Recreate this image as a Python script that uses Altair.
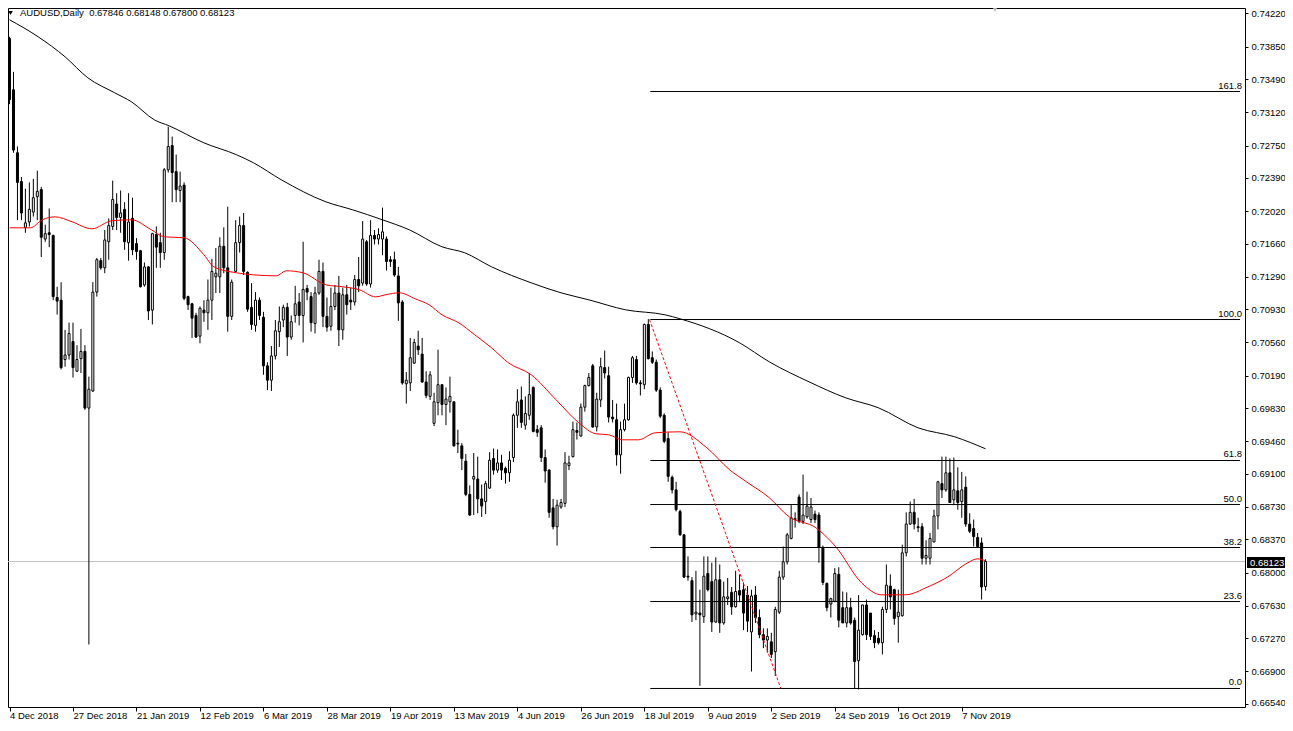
import altair as alt
import pandas as pd

# ---------------- data ----------------
x_labels = ["4 Dec 2018", "27 Dec 2018", "21 Jan 2019", "12 Feb 2019", "6 Mar 2019",
            "28 Mar 2019", "19 Apr 2019", "13 May 2019", "4 Jun 2019", "26 Jun 2019",
            "18 Jul 2019", "9 Aug 2019", "2 Sep 2019", "24 Sep 2019", "16 Oct 2019", "7 Nov 2019"]
x_label_bars = [0, 16, 32, 48, 64, 80, 96, 112, 128, 144, 160, 176, 192, 208, 224, 240]

y_ticks = [0.74220, 0.73850, 0.73490, 0.73120, 0.72750, 0.72390, 0.72020, 0.71660, 0.71290,
           0.70930, 0.70560, 0.70190, 0.69830, 0.69460, 0.69100, 0.68730, 0.68370, 0.68000,
           0.67630, 0.67270, 0.66900, 0.66540]

opens = [
    0.7394, 0.7337, 0.7267, 0.7235, 0.7184, 0.7190, 0.7201, 0.7218, 0.7226, 0.7171,
    0.7178, 0.7175, 0.7106, 0.7103, 0.7037, 0.7042, 0.7057, 0.7024, 0.7038, 0.7046,
    0.6983, 0.7002, 0.7112, 0.7147, 0.7139, 0.7168, 0.7185, 0.7210, 0.7195, 0.7204,
    0.7167, 0.7194, 0.7166, 0.7158, 0.7120, 0.7140, 0.7092, 0.7176, 0.7167, 0.7156,
    0.7248, 0.7275, 0.7246, 0.7225, 0.7231, 0.7107, 0.7099, 0.7086, 0.7063, 0.7092,
    0.7089, 0.7103, 0.7129, 0.7129, 0.7163, 0.7139, 0.7085, 0.7135, 0.7167, 0.7186,
    0.7134, 0.7095, 0.7075, 0.7103, 0.7084, 0.7030, 0.7014, 0.7041, 0.7068, 0.7081,
    0.7095, 0.7062, 0.7086, 0.7101, 0.7086, 0.7116, 0.7107, 0.7077, 0.7111, 0.7135,
    0.7085, 0.7074, 0.7096, 0.7111, 0.7070, 0.7109, 0.7103, 0.7101, 0.7126, 0.7122,
    0.7168, 0.7121, 0.7175, 0.7171, 0.7171, 0.7171, 0.7148, 0.7148, 0.7130, 0.7101,
    0.7010, 0.7011, 0.7033, 0.7052, 0.7043, 0.7012, 0.6996, 0.6966, 0.6989, 0.7009,
    0.6987, 0.6990, 0.6990, 0.6944, 0.6941, 0.6924, 0.6887, 0.6904, 0.6904, 0.6882,
    0.6879, 0.6894, 0.6927, 0.6914, 0.6922, 0.6916, 0.6911, 0.6928, 0.6975, 0.6992,
    0.6964, 0.6975, 0.7006, 0.6959, 0.6961, 0.6928, 0.6914, 0.6872, 0.6851, 0.6873,
    0.6877, 0.6919, 0.6929, 0.6958, 0.6952, 0.6984, 0.7008, 0.7030, 0.6962, 0.6992,
    0.7028, 0.7019, 0.6973, 0.6970, 0.6931, 0.6959, 0.6970, 0.7017, 0.7037, 0.7011,
    0.7009, 0.7076, 0.7039, 0.7034, 0.7003, 0.6975, 0.6949, 0.6906, 0.6892, 0.6868,
    0.6842, 0.6796, 0.6791, 0.6754, 0.6755, 0.6751, 0.6799, 0.6790, 0.6745, 0.6792,
    0.6744, 0.6771, 0.6778, 0.6762, 0.6780, 0.6781, 0.6775, 0.6734, 0.6775, 0.6750,
    0.6731, 0.6725, 0.6723, 0.6712, 0.6756, 0.6795, 0.6812, 0.6838, 0.6859, 0.6884,
    0.6857, 0.6862, 0.6859, 0.6865, 0.6864, 0.6828, 0.6788, 0.6765, 0.6768, 0.6798,
    0.6761, 0.6744, 0.6761, 0.6747, 0.6702, 0.6731, 0.6764, 0.6755, 0.6730, 0.6727,
    0.6722, 0.6759, 0.6785, 0.6781, 0.6751, 0.6752, 0.6822, 0.6854, 0.6867, 0.6851,
    0.6851, 0.6816, 0.6816, 0.6834, 0.6863, 0.6899, 0.6892, 0.6911, 0.6881, 0.6891,
    0.6879, 0.6895, 0.6854, 0.6849, 0.6839, 0.6833, 0.67846]

highs = [
    0.7396, 0.7357, 0.7274, 0.7240, 0.7227, 0.7234, 0.7238, 0.7247, 0.7229, 0.7187,
    0.7205, 0.7176, 0.7118, 0.7123, 0.7070, 0.7078, 0.7078, 0.7053, 0.7071, 0.7053,
    0.7018, 0.7123, 0.7150, 0.7150, 0.7181, 0.7194, 0.7236, 0.7222, 0.7225, 0.7212,
    0.7222, 0.7217, 0.7172, 0.7159, 0.7145, 0.7141, 0.7178, 0.7185, 0.7178, 0.7250,
    0.7296, 0.7285, 0.7265, 0.7246, 0.7234, 0.7108, 0.7100, 0.7089, 0.7096, 0.7103,
    0.7126, 0.7149, 0.7161, 0.7173, 0.7184, 0.7207, 0.7126, 0.7192, 0.7196, 0.7200,
    0.7135, 0.7122, 0.7112, 0.7106, 0.7090, 0.7034, 0.7052, 0.7081, 0.7096, 0.7098,
    0.7100, 0.7086, 0.7119, 0.7111, 0.7168, 0.7120, 0.7112, 0.7118, 0.7148, 0.7145,
    0.7106, 0.7117, 0.7120, 0.7130, 0.7117, 0.7120, 0.7117, 0.7131, 0.7151, 0.7191,
    0.7170, 0.7192, 0.7181, 0.7183, 0.7206, 0.7174, 0.7152, 0.7157, 0.7140, 0.7103,
    0.7023, 0.7061, 0.7060, 0.7069, 0.7061, 0.7024, 0.7024, 0.7000, 0.7048, 0.7009,
    0.7006, 0.7018, 0.6990, 0.6959, 0.6944, 0.6932, 0.6897, 0.6933, 0.6929, 0.6898,
    0.6902, 0.6934, 0.6938, 0.6937, 0.6931, 0.6918, 0.6935, 0.6977, 0.7004, 0.7007,
    0.6996, 0.7022, 0.7007, 0.6964, 0.6964, 0.6937, 0.6915, 0.6882, 0.6881, 0.6882,
    0.6934, 0.6930, 0.6968, 0.6967, 0.6988, 0.7009, 0.7022, 0.7032, 0.7000, 0.7039,
    0.7047, 0.7029, 0.6992, 0.6988, 0.6968, 0.6988, 0.7018, 0.7041, 0.7041, 0.7014,
    0.7077, 0.7082, 0.7046, 0.7037, 0.7006, 0.6977, 0.6956, 0.6908, 0.6901, 0.6870,
    0.6843, 0.6818, 0.6795, 0.6802, 0.6781, 0.6818, 0.6818, 0.6811, 0.6817, 0.6809,
    0.6790, 0.6794, 0.6784, 0.6802, 0.6798, 0.6789, 0.6785, 0.6781, 0.6785, 0.6759,
    0.6738, 0.6738, 0.6733, 0.6762, 0.6802, 0.6829, 0.6844, 0.6875, 0.6867, 0.6887,
    0.6909, 0.6890, 0.6883, 0.6869, 0.6867, 0.6830, 0.6789, 0.6772, 0.6805, 0.6806,
    0.6779, 0.6778, 0.6772, 0.6750, 0.6775, 0.6764, 0.6770, 0.6755, 0.6736, 0.6734,
    0.6762, 0.6809, 0.6798, 0.6782, 0.6781, 0.6831, 0.6867, 0.6879, 0.6882, 0.6861,
    0.6855, 0.6836, 0.6844, 0.6870, 0.6902, 0.6929, 0.6929, 0.6927, 0.6928, 0.6917,
    0.6912, 0.6907, 0.6866, 0.6859, 0.6844, 0.6839, 0.68148]

lows = [
    0.7321, 0.7267, 0.7192, 0.7192, 0.7178, 0.7185, 0.7196, 0.7192, 0.7151, 0.7168,
    0.7162, 0.7103, 0.7087, 0.7026, 0.7029, 0.7037, 0.7017, 0.7023, 0.7022, 0.6981,
    0.6720, 0.7001, 0.7107, 0.7137, 0.7133, 0.7148, 0.7181, 0.7181, 0.7178, 0.7159,
    0.7147, 0.7153, 0.7148, 0.7117, 0.7118, 0.7081, 0.7076, 0.7139, 0.7139, 0.7148,
    0.7245, 0.7212, 0.7212, 0.7212, 0.7103, 0.7092, 0.7061, 0.7061, 0.7055, 0.7079,
    0.7070, 0.7081, 0.7111, 0.7111, 0.7133, 0.7068, 0.7081, 0.7134, 0.7156, 0.7131,
    0.7090, 0.7070, 0.7068, 0.7081, 0.7020, 0.7003, 0.7002, 0.7037, 0.7051, 0.7073,
    0.7041, 0.7059, 0.7078, 0.7075, 0.7056, 0.7103, 0.7068, 0.7066, 0.7109, 0.7073,
    0.7068, 0.7069, 0.7092, 0.7052, 0.7059, 0.7087, 0.7092, 0.7097, 0.7112, 0.7119,
    0.7119, 0.7117, 0.7165, 0.7165, 0.7153, 0.7136, 0.7140, 0.7129, 0.7080, 0.7009,
    0.6988, 0.7002, 0.7032, 0.7042, 0.7011, 0.6994, 0.6992, 0.6963, 0.6975, 0.6975,
    0.6964, 0.6978, 0.6940, 0.6933, 0.6914, 0.6885, 0.6863, 0.6864, 0.6866, 0.6862,
    0.6865, 0.6893, 0.6909, 0.6911, 0.6903, 0.6899, 0.6901, 0.6923, 0.6961, 0.6961,
    0.6959, 0.6970, 0.6956, 0.6951, 0.6923, 0.6900, 0.6861, 0.6848, 0.6830, 0.6871,
    0.6873, 0.6914, 0.6928, 0.6948, 0.6951, 0.6979, 0.7007, 0.6961, 0.6957, 0.6984,
    0.7016, 0.6967, 0.6967, 0.6919, 0.6910, 0.6957, 0.6969, 0.7011, 0.7009, 0.6997,
    0.7004, 0.7037, 0.7032, 0.7001, 0.6972, 0.6944, 0.6901, 0.6888, 0.6868, 0.6841,
    0.6794, 0.6791, 0.6745, 0.6747, 0.6674, 0.6744, 0.6779, 0.6734, 0.6744, 0.6733,
    0.6742, 0.6764, 0.6753, 0.6761, 0.6767, 0.6736, 0.6734, 0.6690, 0.6744, 0.6727,
    0.6716, 0.6711, 0.6705, 0.6685, 0.6754, 0.6792, 0.6809, 0.6837, 0.6850, 0.6855,
    0.6854, 0.6860, 0.6855, 0.6855, 0.6811, 0.6786, 0.6757, 0.6750, 0.6767, 0.6739,
    0.6744, 0.6739, 0.6742, 0.6671, 0.6670, 0.6730, 0.6725, 0.6725, 0.6716, 0.6720,
    0.6709, 0.6755, 0.6759, 0.6742, 0.6722, 0.6751, 0.6818, 0.6853, 0.6848, 0.6845,
    0.6809, 0.6809, 0.6809, 0.6834, 0.6848, 0.6883, 0.6890, 0.6878, 0.6875, 0.6870,
    0.6861, 0.6851, 0.6844, 0.6829, 0.6828, 0.6770, 0.67800]

closes = [
    0.7326, 0.7270, 0.7234, 0.7200, 0.7189, 0.7204, 0.7217, 0.7224, 0.7173, 0.7177,
    0.7176, 0.7107, 0.7102, 0.7028, 0.7042, 0.7066, 0.7028, 0.7037, 0.7046, 0.6983,
    0.7004, 0.7112, 0.7148, 0.7139, 0.7170, 0.7186, 0.7215, 0.7195, 0.7200, 0.7168,
    0.7190, 0.7159, 0.7157, 0.7118, 0.7140, 0.7091, 0.7177, 0.7162, 0.7156, 0.7248,
    0.7274, 0.7245, 0.7226, 0.7230, 0.7105, 0.7098, 0.7083, 0.7062, 0.7094, 0.7089,
    0.7103, 0.7135, 0.7133, 0.7163, 0.7139, 0.7085, 0.7123, 0.7167, 0.7186, 0.7135,
    0.7093, 0.7076, 0.7103, 0.7086, 0.7030, 0.7014, 0.7041, 0.7069, 0.7079, 0.7095,
    0.7062, 0.7079, 0.7099, 0.7086, 0.7115, 0.7112, 0.7078, 0.7111, 0.7135, 0.7085,
    0.7073, 0.7096, 0.7111, 0.7070, 0.7109, 0.7098, 0.7101, 0.7126, 0.7119, 0.7171,
    0.7121, 0.7175, 0.7171, 0.7176, 0.7179, 0.7146, 0.7146, 0.7131, 0.7100, 0.7011,
    0.7014, 0.7039, 0.7056, 0.7048, 0.7012, 0.6997, 0.7020, 0.6990, 0.7009, 0.6987,
    0.6993, 0.6996, 0.6941, 0.6943, 0.6927, 0.6887, 0.6864, 0.6907, 0.6882, 0.6874,
    0.6899, 0.6925, 0.6914, 0.6922, 0.6914, 0.6911, 0.6925, 0.6975, 0.6990, 0.6967,
    0.6977, 0.6998, 0.6957, 0.6956, 0.6928, 0.6913, 0.6867, 0.6851, 0.6875, 0.6878,
    0.6922, 0.6922, 0.6959, 0.6956, 0.6984, 0.7008, 0.7017, 0.6962, 0.6993, 0.7029,
    0.7022, 0.6973, 0.6971, 0.6931, 0.6959, 0.6970, 0.7017, 0.7039, 0.7011, 0.7010,
    0.7076, 0.7038, 0.7034, 0.7003, 0.6974, 0.6946, 0.6907, 0.6892, 0.6870, 0.6842,
    0.6795, 0.6795, 0.6753, 0.6756, 0.6753, 0.6796, 0.6781, 0.6745, 0.6792, 0.6744,
    0.6773, 0.6773, 0.6762, 0.6779, 0.6775, 0.6755, 0.6746, 0.6774, 0.6750, 0.6731,
    0.6725, 0.6729, 0.6709, 0.6759, 0.6795, 0.6812, 0.6842, 0.6861, 0.6860, 0.6857,
    0.6864, 0.6874, 0.6873, 0.6859, 0.6828, 0.6789, 0.6761, 0.6771, 0.6799, 0.6747,
    0.6744, 0.6761, 0.6744, 0.6701, 0.6736, 0.6764, 0.6731, 0.6729, 0.6722, 0.6722,
    0.6759, 0.6786, 0.6773, 0.6749, 0.6756, 0.6822, 0.6854, 0.6867, 0.6854, 0.6850,
    0.6816, 0.6819, 0.6838, 0.6863, 0.6901, 0.6892, 0.6911, 0.6878, 0.6892, 0.6878,
    0.6892, 0.6854, 0.6846, 0.6840, 0.6829, 0.6784, 0.68123]

# moving averages sampled along the drawn curves (bar position, price)
ma_slow_bar = [0, 7.25, 14, 19.75, 26.5, 30.75, 36.5, 40.25, 49, 57.25, 61.5, 68.5, 79.75,
               86.5, 94, 100.75, 109, 114.75, 121.5, 131.5, 139, 146, 155.25, 165.25, 169,
               184, 191.5, 201.5, 210.75, 219, 229, 238.25, 246]
ma_slow_val = [0.74149, 0.73959, 0.73737, 0.73503, 0.73337, 0.73236, 0.73036, 0.72969,
               0.72780, 0.72647, 0.72558, 0.72369, 0.72124, 0.72035, 0.71924, 0.71813,
               0.71624, 0.71557, 0.71401, 0.71223, 0.71112, 0.71034, 0.70923, 0.70867,
               0.70823, 0.70556, 0.70344, 0.70122, 0.69944, 0.69833, 0.69610, 0.69510,
               0.69377]
ma_fast_bar = [0, 5.25, 8.25, 11.5, 15.75, 20.75, 25.75, 30.75, 35.75, 39, 44, 49, 51.5,
               57.25, 61.5, 67.25, 69.75, 74, 79.75, 84, 88.25, 92.25, 94.75, 98.25, 102.25,
               105.75, 109, 113.25, 117.25, 121.5, 125.75, 131.5, 137.75, 143.5, 147.75, 151,
               154.5, 158.5, 162.75, 169, 175.75, 181.5, 185.75, 191.5, 196.5, 203.25, 208.25,
               214.75, 219.75, 225.75, 231.5, 236.5, 241.5, 244, 246]
ma_fast_val = [0.71835, 0.71835, 0.71924, 0.71957, 0.71902, 0.71824, 0.71913, 0.71924,
               0.71813, 0.71735, 0.71724, 0.71535, 0.71401, 0.71334, 0.71312, 0.71301,
               0.71357, 0.71334, 0.71201, 0.71179, 0.71145, 0.71067, 0.71090, 0.71112,
               0.71045, 0.70979, 0.70867, 0.70778, 0.70645, 0.70500, 0.70333, 0.70200,
               0.69922, 0.69666, 0.69544, 0.69533, 0.69477, 0.69477, 0.69555, 0.69566,
               0.69388, 0.69143, 0.69010, 0.68832, 0.68620, 0.68498, 0.68287, 0.67886,
               0.67753, 0.67753, 0.67842, 0.67953, 0.68109, 0.68153, 0.68131]

fib_labels = ["161.8", "100.0", "61.8", "50.0", "38.2", "23.6", "0.0"]
fib_prices = [0.73351, 0.70815, 0.69247, 0.68757, 0.68279, 0.67678, 0.66711]
fib_start_bar = 161.5
fib_end_bar = 310.125
trend_bar = [161.3, 194.4]
trend_price = [0.70815, 0.66711]

last_price = 0.68123
header_text = "AUDUSD,Daily\u00a0\u00a00.67846 0.68148 0.67800 0.68123"

# ---------------- chart ----------------
FONT = "Liberation Sans"
FS = 9.5
W, H = 1237, 699

bars = pd.DataFrame({"bar": list(range(len(opens))), "open": opens, "high": highs,
                     "low": lows, "close": closes})
bars["body_top"] = bars[["open", "close"]].max(axis=1)
bars["body_bot"] = bars[["open", "close"]].min(axis=1)
bars["rising"] = bars["close"] >= bars["open"]

xscale = alt.Scale(domain=[0.875, 310.125], nice=False, zero=False)
yscale = alt.Scale(domain=[0.66505, 0.74280], nice=False, zero=False)

labels_js = "[" + ",".join("'" + s + "'" for s in x_labels) + "]"
x_axis = alt.Axis(values=x_label_bars, labelExpr=labels_js + "[round(datum.value / 16)]",
                  orient="bottom", title=None, grid=False, domain=False, ticks=True,
                  tickSize=4, tickColor="black", labelAlign="left",
                  labelBaseline="alphabetic", labelPadding=7, labelFont=FONT,
                  labelFontSize=FS, labelColor="black", labelOverlap=False,
                  labelFlush=False, labelBound=False)
y_axis = alt.Axis(values=y_ticks, format=".5f", orient="right", title=None, grid=False,
                  domain=False, ticks=True, tickSize=3, tickColor="black", labelPadding=3,
                  labelFont=FONT, labelFontSize=FS, labelColor="black", labelOverlap=False,
                  labelFlush=4, labelFlushOffset=4, labelBound=False)


def X(field):
    return alt.X(field, scale=xscale, axis=x_axis)


def Y(field):
    return alt.Y(field, scale=yscale, axis=y_axis)


price_df = pd.DataFrame({"p": [last_price], "t": [f"{last_price:.5f}"]})

price_line = alt.Chart(price_df).mark_rule(color="#c0c0c0", strokeWidth=1).encode(
    x=alt.value(0), x2=alt.value(W), y=Y("p:Q"))

wicks = alt.Chart(bars).mark_rule(color="black", strokeWidth=1, clip=True).encode(
    x=X("bar:Q"), y=Y("low:Q"), y2="high:Q")

bodies = alt.Chart(bars).mark_bar(size=2, stroke="black", strokeWidth=1, clip=True).encode(
    x=X("bar:Q"), y=Y("body_bot:Q"), y2="body_top:Q",
    fill=alt.condition("datum.rising", alt.value("white"), alt.value("black")))

slow = alt.Chart(pd.DataFrame({"bar": ma_slow_bar, "v": ma_slow_val})).mark_line(
    color="black", strokeWidth=1, clip=True, interpolate="monotone").encode(
    x=X("bar:Q"), y=Y("v:Q"))

fast = alt.Chart(pd.DataFrame({"bar": ma_fast_bar, "v": ma_fast_val})).mark_line(
    color="#ff0000", strokeWidth=1, clip=True, interpolate="monotone").encode(
    x=X("bar:Q"), y=Y("v:Q"))

fib_df = pd.DataFrame({"p": fib_prices, "label": fib_labels,
                       "x0": [fib_start_bar] * len(fib_prices),
                       "x1": [fib_end_bar] * len(fib_prices)})
fib_rules = alt.Chart(fib_df).mark_rule(color="black", strokeWidth=1, clip=True).encode(
    x=X("x0:Q"), x2="x1:Q", y=Y("p:Q"))
fib_text = alt.Chart(fib_df).mark_text(align="right", baseline="bottom", dy=-1, font=FONT,
                                       fontSize=FS, color="black").encode(
    x=alt.value(W - 3), y=Y("p:Q"), text="label:N")

trend = alt.Chart(pd.DataFrame({"bar": trend_bar, "p": trend_price})).mark_line(
    color="#ff0000", strokeWidth=1, strokeDash=[3, 2], clip=True).encode(
    x=X("bar:Q"), y=Y("p:Q"))

price_box = alt.Chart(price_df).mark_rule(color="black", strokeWidth=11, yOffset=1).encode(
    x=alt.value(W + 2), x2=alt.value(W + 40), y=Y("p:Q"))
price_txt = alt.Chart(price_df).mark_text(align="left", baseline="middle", font=FONT,
                                          fontSize=FS, color="white", yOffset=1).encode(
    x=alt.value(W + 5), y=Y("p:Q"), text="t:N")

head_df = pd.DataFrame({"t": [header_text]})
header = alt.Chart(head_df).mark_text(align="left", baseline="middle", font=FONT,
                                      fontSize=FS, color="black").encode(
    x=alt.value(12), y=alt.value(5), text="t:N")
header_tri = alt.Chart(head_df).mark_point(shape="triangle-down", filled=True, color="black",
                                           size=22, opacity=1).encode(
    x=alt.value(2.5), y=alt.value(5))
shift_tri = alt.Chart(head_df).mark_point(shape="triangle-down", filled=True, color="#b4b4b4",
                                          size=26, opacity=1).encode(
    x=alt.value(987), y=alt.value(1.5))

chart = alt.layer(
    price_line, wicks, bodies, slow, fast, fib_rules, trend, fib_text,
    price_box, price_txt, header, header_tri, shift_tri
).properties(
    width=W, height=H,
    padding={"left": 0, "top": 0, "right": 40, "bottom": 12},
    autosize=alt.AutoSizeParams(type="none"),
    background="white",
).configure_view(stroke="black", strokeWidth=1)

chart.save("out.html", embed_options={"renderer": "svg", "actions": False})
